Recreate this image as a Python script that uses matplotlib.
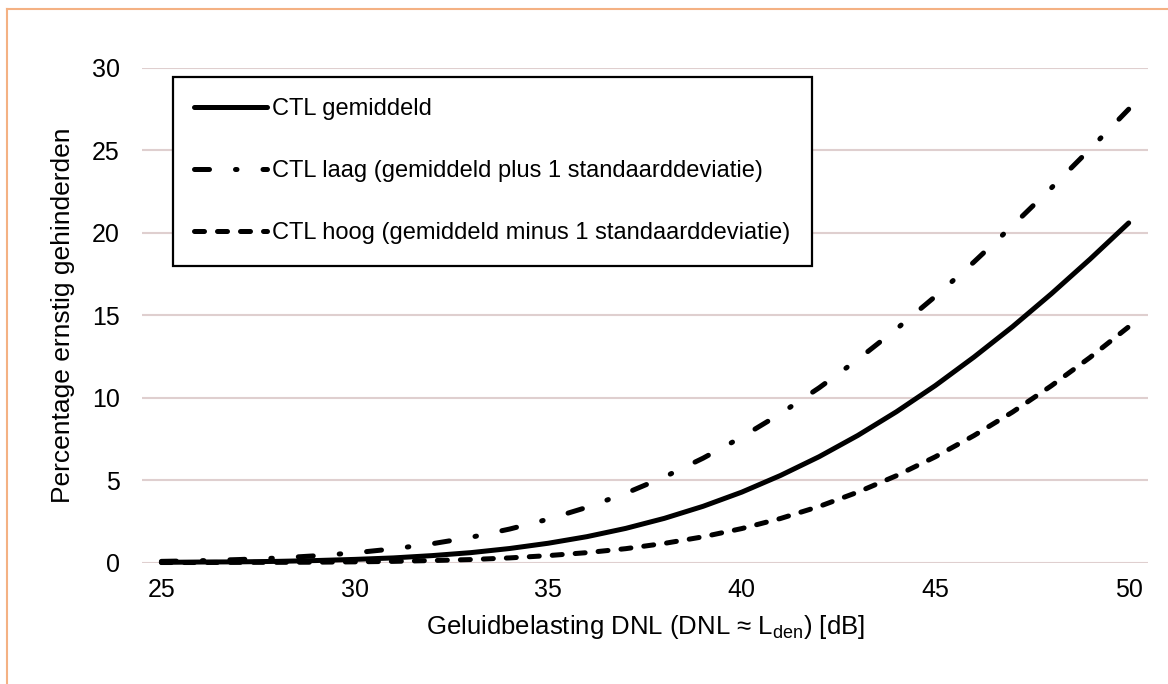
import matplotlib
matplotlib.use("Agg")
from matplotlib import pyplot as plt
from matplotlib.lines import Line2D

plt.rcParams['font.family'] = ['Liberation Sans', 'DejaVu Sans']

dnl = list(range(25, 51))
ctl_gemiddeld = [0.01, 0.03, 0.04, 0.07, 0.12, 0.19, 0.28, 0.42, 0.60, 0.85,
                 1.17, 1.57, 2.07, 2.68, 3.41, 4.27, 5.28, 6.42, 7.71, 9.15,
                 10.73, 12.46, 14.31, 16.30, 18.40, 20.60]
ctl_laag = [0.07, 0.11, 0.18, 0.27, 0.41, 0.59, 0.83, 1.14, 1.53, 2.03,
            2.63, 3.35, 4.20, 5.19, 6.33, 7.61, 9.03, 10.60, 12.32, 14.17,
            16.14, 18.23, 20.44, 22.72, 25.08, 27.50]
ctl_hoog = [0.00, 0.00, 0.01, 0.01, 0.02, 0.04, 0.07, 0.12, 0.18, 0.28,
            0.42, 0.60, 0.84, 1.16, 1.56, 2.06, 2.67, 3.40, 4.27, 5.27,
            6.41, 7.70, 9.13, 10.72, 12.44, 14.30]

labels = ["CTL gemiddeld",
          "CTL laag (gemiddeld plus 1 standaarddeviatie)",
          "CTL hoog (gemiddeld minus 1 standaarddeviatie)"]

fig = plt.figure(figsize=(11.68, 6.84), dpi=100)
ax = fig.add_axes([0.1216, 0.1776, 0.8613, 0.723])

lw = 3.6
ax.plot(dnl, ctl_gemiddeld, color="black", lw=lw, solid_capstyle="round",
        clip_on=False, label=labels[0], zorder=3)
ax.plot(dnl, ctl_laag, color="black", lw=lw, linestyle=(0, (3.0, 5.2, 0.3, 5.2)),
        dash_capstyle="round", clip_on=False, label=labels[1], zorder=3)
ax.plot(dnl, ctl_hoog, color="black", lw=lw, linestyle=(0, (2.0, 2.6)),
        dash_capstyle="round", clip_on=False, label=labels[2], zorder=3)

ax.set_xlim(24.5, 50.5)
ax.set_ylim(0, 30)
ax.set_xticks([25, 30, 35, 40, 45, 50])
ax.set_yticks([0, 5, 10, 15, 20, 25, 30])
ax.grid(axis="y", color="#dfcfcf", lw=1.5)
ax.set_axisbelow(True)
for s in ax.spines.values():
    s.set_visible(False)
ax.tick_params(length=0, labelsize=18)
ax.tick_params(axis="y", pad=16)
ax.tick_params(axis="x", pad=11)

ax.set_xlabel("Geluidbelasting DNL (DNL ≈ L$_\\mathregular{den}$) [dB]", fontsize=18.5, labelpad=8)
ax.set_ylabel("Percentage ernstig gehinderden", fontsize=19, labelpad=12)

leg = ax.legend(loc="upper left", bbox_to_anchor=(0.0308, 0.982), borderaxespad=0,
                fontsize=17, handlelength=3.1, handletextpad=0.2, labelspacing=1.7,
                fancybox=False, frameon=True, borderpad=0.9)
leg.get_frame().set_edgecolor("black")
leg.get_frame().set_linewidth(1.6)
leg.get_frame().set_alpha(1)

# orange frame at top and left
fig.add_artist(Line2D([7 / 1168, 1], [1 - 9 / 684, 1 - 9 / 684], color="#f4b183", lw=1.5))
fig.add_artist(Line2D([7 / 1168, 7 / 1168], [0, 1 - 9 / 684], color="#f4b183", lw=1.5))

fig.savefig("out.png", dpi=100)
